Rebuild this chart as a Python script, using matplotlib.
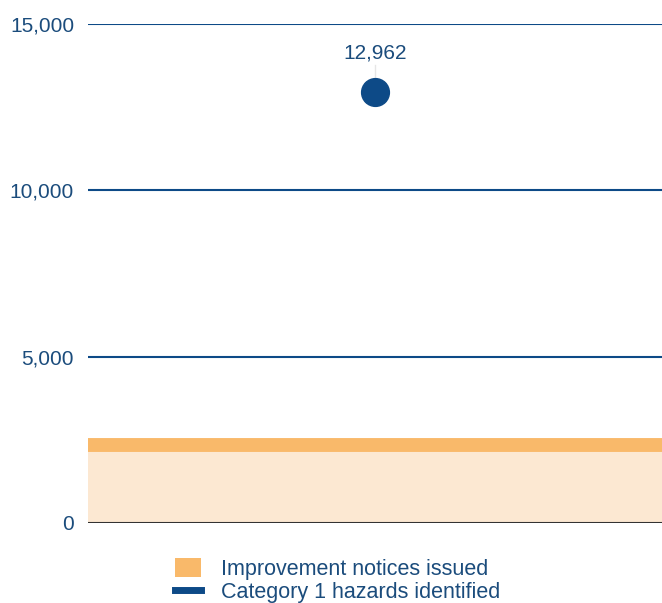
import matplotlib.pyplot as plt
from matplotlib.patches import Patch
from matplotlib.lines import Line2D

categories = ['2019']
hazards = [12962]
notices = [2340]
yticks = [0, 5000, 10000, 15000]

navy = '#0d4a87'
text_c = '#1b4c7c'
plt.rcParams['font.family'] = ['Liberation Sans', 'DejaVu Sans']

fig = plt.figure(figsize=(6.62, 6.03), dpi=100)
ax = fig.add_axes([88/662, 1-523/603, 1-88/662, (523-24)/603])

xs = [-0.5, 0.5]
ax.fill_between(xs, 0, [notices[0]]*2, color='#fce8d2', lw=0, zorder=1)
ax.plot(xs, [notices[0]]*2, color='#f9b96a', lw=10, solid_capstyle='butt', zorder=2)

ax.plot([0], hazards, 'o', color=navy, markersize=20, zorder=5)
ax.plot([0, 0], [hazards[0] + 300, hazards[0] + 800], color='#e6e6e6', lw=1, zorder=3)
ax.text(0, hazards[0] + 1170, f'{hazards[0]:,}', ha='center', va='center',
        fontsize=15, color=text_c)

for v in yticks[1:]:
    ax.axhline(v, color=navy, lw=1.5, zorder=0)
ax.axhline(0, color='#333333', lw=1.5, zorder=4)

ax.set_xlim(-0.5, 0.5)
ax.set_ylim(0, 15000)
ax.set_yticks(yticks)
ax.set_yticklabels([f'{v:,}' for v in yticks])
ax.set_xticks([])
ax.tick_params(axis='y', length=0, pad=10, labelsize=15, labelcolor=text_c)
for s in ax.spines.values():
    s.set_visible(False)
ax.patch.set_alpha(0)

handles = [Patch(facecolor='#f9b96a', edgecolor='none'),
           Line2D([0], [0], color=navy, lw=5)]
fig.legend(handles, ['Improvement notices issued', 'Category 1 hazards identified'],
           loc='upper center', bbox_to_anchor=(0.51, 1-545/603), frameon=False,
           fontsize=15.5, labelcolor=text_c, handlelength=1.2, handleheight=1.0,
           handletextpad=0.9, labelspacing=0.05, borderpad=0.1)

fig.savefig('out.png', dpi=100)
